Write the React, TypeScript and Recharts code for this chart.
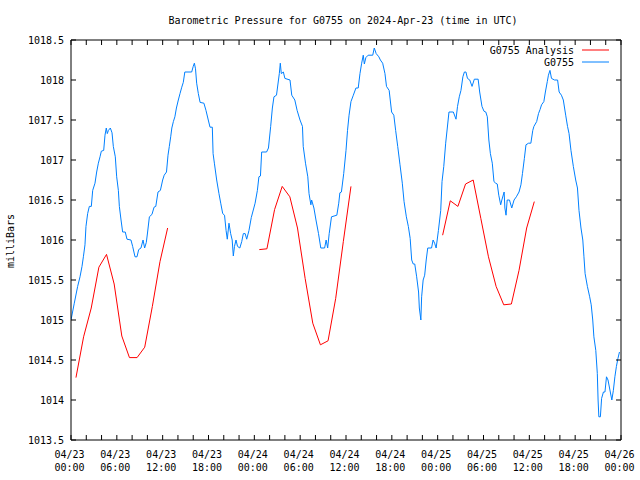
import { LineChart, Line, XAxis, YAxis } from 'recharts'

// G0755 station readings: hours since 04/23 00:00 UTC and pressure (mb)
const stationHours = [
  0, 0.43, 0.87, 1.18, 1.44, 1.62, 1.83, 1.96, 2.18, 2.4, 2.66, 2.84, 3.14, 3.36, 3.58, 3.8, 3.97, 4.28, 4.45, 4.62,
  4.75, 4.9, 5.15, 5.37, 5.54, 5.8, 5.98, 6.2, 6.33, 6.55, 6.76, 7.1, 7.33, 7.85, 8.07, 8.38, 8.64, 8.86, 9.16, 9.43,
  9.64, 9.86, 10.03, 10.26, 10.6, 10.87, 11.1, 11.39, 11.7, 12, 12.2, 12.5, 12.7, 12.87, 13.05, 13.2, 13.4, 13.6, 13.8, 14.05,
  14.27, 14.5, 14.7, 14.9, 15.8, 16, 16.15, 16.3, 16.45, 16.67, 16.9, 17.4, 17.67, 17.97, 18.2, 18.5, 18.6, 18.77, 19.07, 19.37,
  19.6, 19.86, 20.1, 20.3, 20.46, 20.68, 20.9, 21.1, 21.25, 21.4, 21.6, 21.8, 22.1, 22.35, 22.56, 22.8, 23, 23.3, 23.6, 24.1,
  24.4, 24.6, 24.8, 24.96, 25.6, 25.85, 26.14, 26.36, 26.57, 26.9, 27.27, 27.4, 27.53, 27.8, 28, 28.67, 28.9, 29.3, 29.6, 29.98,
  30.3, 30.4, 30.7, 31, 31.16, 31.4, 31.5, 31.8, 32.07, 32.4, 32.7, 33.2, 33.4, 33.6, 33.8, 34.1, 34.8, 35.05, 35.2, 35.4,
  35.7, 36, 36.2, 36.4, 36.65, 36.96, 37.3, 37.6, 37.83, 38.05, 38.26, 38.4, 38.6, 38.9, 39.5, 39.7, 39.95, 40.3, 40.5, 40.8,
  41.1, 41.3, 41.65, 41.97, 42.26, 42.5, 42.77, 43.07, 43.37, 43.6, 43.9, 44.16, 44.4, 44.6, 44.8, 45, 45.25, 45.5, 45.6, 45.8,
  45.9, 46.1, 46.3, 46.5, 46.7, 47.2, 47.4, 47.6, 47.8, 48.1, 48.4, 48.57, 48.8, 49.05, 49.26, 49.48, 50.05, 50.4, 50.6, 50.83,
  51.05, 51.3, 51.5, 51.7, 51.9, 52.2, 52.5, 52.8, 53.3, 53.5, 53.8, 54.06, 54.3, 54.5, 54.7, 54.9, 55.15, 55.37, 55.6, 55.8,
  56, 56.25, 56.4, 56.7, 56.8, 56.95, 57.1, 57.4, 57.7, 58, 58.3, 58.65, 58.9, 59.1, 59.35, 59.56, 59.9, 60.2, 60.45, 60.6,
  60.96, 61.2, 61.4, 61.6, 61.9, 62.1, 62.35, 62.5, 62.7, 62.9, 63.3, 63.7, 63.9, 64.2, 64.45, 64.76, 65, 65.2, 65.45, 65.76,
  66.07, 66.3, 66.5, 66.76, 67, 67.15, 67.3, 67.6, 67.9, 68.1, 68.3, 68.45, 68.7, 68.9, 69, 69.1, 69.3, 69.46, 69.7, 69.9,
  70.1, 70.3, 70.5, 70.8, 71, 71.2, 71.4, 71.6, 71.8,
]
const stationValues = [
  1015.0, 1015.21, 1015.42, 1015.54, 1015.67, 1015.79, 1015.94, 1016.17, 1016.33, 1016.42, 1016.42, 1016.62, 1016.71, 1016.85, 1016.96, 1017.04, 1017.11, 1017.12, 1017.31, 1017.4,
  1017.33, 1017.37, 1017.4, 1017.34, 1017.17, 1017.04, 1016.79, 1016.62, 1016.42, 1016.25, 1016.1, 1016.1, 1016.01, 1016.0, 1015.92, 1015.79, 1015.79, 1015.88, 1015.9, 1016.0,
  1015.9, 1015.97, 1016.1, 1016.29, 1016.32, 1016.41, 1016.42, 1016.6, 1016.62, 1016.75, 1016.81, 1016.85, 1017.06, 1017.17, 1017.29, 1017.4, 1017.48, 1017.54, 1017.65, 1017.75,
  1017.83, 1017.91, 1017.97, 1018.1, 1018.1, 1018.17, 1018.21, 1018.14, 1017.96, 1017.83, 1017.72, 1017.71, 1017.62, 1017.5, 1017.41, 1017.41, 1017.08, 1016.96, 1016.75, 1016.58,
  1016.46, 1016.33, 1016.31, 1016.12, 1016.01, 1016.21, 1016.08, 1016.0, 1015.8, 1015.92, 1016.0, 1015.92, 1015.9, 1015.98, 1016.08, 1016.08, 1016.01, 1016.12, 1016.28, 1016.46,
  1016.62, 1016.79, 1016.8, 1017.1, 1017.1, 1017.15, 1017.42, 1017.65, 1017.79, 1017.81, 1018.08, 1018.21, 1018.08, 1018.1, 1018.02, 1018.0, 1017.81, 1017.75, 1017.62, 1017.5,
  1017.42, 1017.17, 1016.96, 1016.79, 1016.58, 1016.44, 1016.5, 1016.4, 1016.25, 1016.08, 1015.9, 1015.9, 1016.0, 1015.9, 1016.08, 1016.29, 1016.31, 1016.46, 1016.59, 1016.6,
  1016.83, 1017.12, 1017.37, 1017.56, 1017.73, 1017.81, 1017.9, 1017.9, 1018.08, 1018.21, 1018.31, 1018.2, 1018.28, 1018.31, 1018.31, 1018.4, 1018.33, 1018.29, 1018.25, 1018.21,
  1018.08, 1017.92, 1017.87, 1017.6, 1017.56, 1017.37, 1017.17, 1016.94, 1016.71, 1016.48, 1016.29, 1016.17, 1016.02, 1015.75, 1015.7, 1015.7, 1015.54, 1015.35, 1015.15, 1015.0,
  1015.29, 1015.5, 1015.56, 1015.75, 1015.9, 1015.9, 1016.0, 1015.96, 1015.9, 1016.12, 1016.37, 1016.73, 1016.92, 1017.21, 1017.4, 1017.6, 1017.6, 1017.51, 1017.67, 1017.79,
  1017.87, 1018.04, 1018.1, 1018.1, 1018.02, 1018.0, 1017.92, 1018.01, 1018.01, 1017.85, 1017.67, 1017.61, 1017.6, 1017.54, 1017.25, 1017.08, 1016.96, 1016.73, 1016.71, 1016.7,
  1016.56, 1016.44, 1016.5, 1016.6, 1016.4, 1016.31, 1016.5, 1016.5, 1016.4, 1016.5, 1016.54, 1016.6, 1016.69, 1016.83, 1017.02, 1017.19, 1017.21, 1017.21, 1017.37, 1017.42,
  1017.48, 1017.58, 1017.63, 1017.69, 1017.73, 1017.85, 1017.98, 1018.06, 1018.12, 1018.02, 1018.0, 1018.0, 1017.85, 1017.81, 1017.75, 1017.56, 1017.42, 1017.33, 1017.12, 1016.92,
  1016.75, 1016.65, 1016.37, 1016.15, 1016.0, 1015.79, 1015.58, 1015.42, 1015.29, 1015.19, 1015.0, 1014.79, 1014.62, 1014.33, 1014.0, 1013.79, 1013.79, 1014.02, 1014.1, 1014.1,
  1014.29, 1014.25, 1014.15, 1014.0, 1014.12, 1014.29, 1014.42, 1014.52, 1014.6,
]

// G0755 Analysis: hourly runs, one per day
const analysisStarts = [0.65, 24.65, 48.65]
const analysisDay1 = [1014.28, 1014.79, 1015.15, 1015.66, 1015.82, 1015.45, 1014.8, 1014.53, 1014.53, 1014.66, 1015.17, 1015.73, 1016.15]
const analysisDay2 = [1015.88, 1015.89, 1016.38, 1016.67, 1016.54, 1016.15, 1015.52, 1014.96, 1014.69, 1014.74, 1015.27, 1015.98, 1016.67]
const analysisDay3 = [1016.06, 1016.49, 1016.42, 1016.7, 1016.75, 1016.27, 1015.79, 1015.42, 1015.19, 1015.2, 1015.62, 1016.15, 1016.48]

const xTicks = [0, 2, 4, 6, 8, 10, 12, 14, 16, 18, 20, 22, 24, 26, 28, 30, 32, 34, 36, 38, 40, 42, 44, 46, 48, 50, 52, 54, 56, 58, 60, 62, 64, 66, 68, 70, 72]
const dateLabels = ['04/23', '04/23', '04/23', '04/23', '04/24', '04/24', '04/24', '04/24', '04/25', '04/25', '04/25', '04/25', '04/26']
const timeLabels = ['00:00', '06:00', '12:00', '18:00', '00:00', '06:00', '12:00', '18:00', '00:00', '06:00', '12:00', '18:00', '00:00']
const yTicks = [1013.5, 1014, 1014.5, 1015, 1015.5, 1016, 1016.5, 1017, 1017.5, 1018, 1018.5]

const FONT = '"DejaVu Sans Mono", monospace'
const RED = '#ff0000'
const BLUE = '#0080ff'

const stationData = stationHours.map((t, i) => ({ t, p: stationValues[i] }))

const analysisData: { t: number; a: number | null }[] = []
;[analysisDay1, analysisDay2, analysisDay3].forEach((day, d) => {
  day.forEach((v, k) => analysisData.push({ t: analysisStarts[d] + k, a: v }))
  if (d < 2) analysisData.push({ t: analysisStarts[d] + 18, a: null })
})

const BottomTick = (props: any) => {
  const { x, y, payload } = props
  const idx = payload.value / 6
  const major = Number.isInteger(idx)
  return (
    <g>
      <line x1={x} y1={y} x2={x} y2={y - 5} stroke="#000" />
      {major && (
        <text x={x - 1.5} textAnchor="middle" fontFamily={FONT} fontSize={10} fill="#000">
          <tspan x={x - 1.5} y={y + 18}>{dateLabels[idx]}</tspan>
          <tspan x={x - 1.5} y={y + 31}>{timeLabels[idx]}</tspan>
        </text>
      )}
    </g>
  )
}

const TopTick = (props: any) => {
  const { x, y } = props
  return <line x1={x} y1={y} x2={x} y2={y + 5} stroke="#000" />
}

const LeftTick = (props: any) => {
  const { x, y, payload } = props
  return (
    <g>
      <line x1={x} y1={y} x2={x + 5} y2={y} stroke="#000" />
      <text x={x - 7} y={y + 3.5} textAnchor="end" fontFamily={FONT} fontSize={10} fill="#000">
        {payload.value}
      </text>
    </g>
  )
}

const RightTick = (props: any) => {
  const { x, y } = props
  return <line x1={x} y1={y} x2={x - 5} y2={y} stroke="#000" />
}

export default function App() {
  return (
    <div style={{ position: 'fixed', left: 0, top: 0, width: 640, height: 480, background: '#fff' }}>
      <LineChart width={640} height={480} margin={{ top: 0, right: 0, bottom: 0, left: 0 }}>
        <XAxis
          xAxisId="bottom"
          type="number"
          dataKey="t"
          domain={[0, 72]}
          ticks={xTicks}
          interval={0}
          height={40}
          tickSize={0}
          tickMargin={0}
          tickLine={false}
          axisLine={{ stroke: '#000' }}
          tick={<BottomTick />}
          allowDataOverflow
        />
        <XAxis
          xAxisId="top"
          orientation="top"
          type="number"
          dataKey="t"
          domain={[0, 72]}
          ticks={xTicks}
          interval={0}
          height={40}
          tickSize={0}
          tickMargin={0}
          tickLine={false}
          axisLine={{ stroke: '#000' }}
          tick={<TopTick />}
          allowDataOverflow
        />
        <YAxis
          yAxisId="left"
          type="number"
          domain={[1013.5, 1018.5]}
          ticks={yTicks}
          interval={0}
          width={71}
          tickSize={0}
          tickMargin={0}
          tickLine={false}
          axisLine={{ stroke: '#000' }}
          tick={<LeftTick />}
          allowDataOverflow
        />
        <YAxis
          yAxisId="right"
          orientation="right"
          type="number"
          domain={[1013.5, 1018.5]}
          ticks={yTicks}
          interval={0}
          width={19}
          tickSize={0}
          tickMargin={0}
          tickLine={false}
          axisLine={{ stroke: '#000' }}
          tick={<RightTick />}
          allowDataOverflow
        />
        <Line
          xAxisId="bottom"
          yAxisId="left"
          data={analysisData}
          dataKey="a"
          type="linear"
          stroke={RED}
          strokeWidth={1}
          dot={false}
          connectNulls={false}
          isAnimationActive={false}
        />
        <Line
          xAxisId="bottom"
          yAxisId="left"
          data={stationData}
          dataKey="p"
          type="linear"
          stroke={BLUE}
          strokeWidth={1}
          dot={false}
          isAnimationActive={false}
        />
      </LineChart>
      <svg width={640} height={480} style={{ position: 'absolute', left: 0, top: 0, pointerEvents: 'none' }}>
        <text x={343} y={24} textAnchor="middle" fontFamily={FONT} fontSize={10} fill="#000">
          Barometric Pressure for G0755 on 2024-Apr-23 (time in UTC)
        </text>
        <text x={14} y={241} textAnchor="middle" fontFamily={FONT} fontSize={10} fill="#000" transform="rotate(-90 14 241)">
          milliBars
        </text>
        <text x={574} y={53.5} textAnchor="end" fontFamily={FONT} fontSize={10} fill="#000">G0755 Analysis</text>
        <line x1={582} y1={50} x2={609} y2={50} stroke={RED} />
        <text x={574} y={66} textAnchor="end" fontFamily={FONT} fontSize={10} fill="#000">G0755</text>
        <line x1={582} y1={62} x2={609} y2={62} stroke={BLUE} />
      </svg>
    </div>
  )
}
